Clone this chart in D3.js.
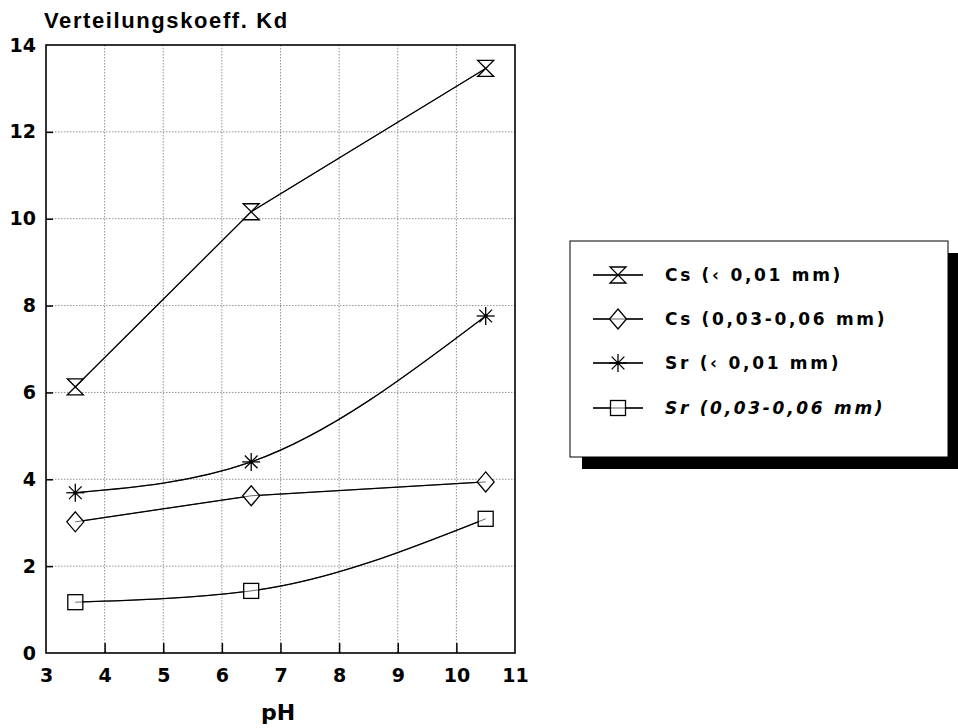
<!DOCTYPE html>
<html><head><meta charset="utf-8">
<script src="https://cdn.jsdelivr.net/npm/d3@7"></script>
<style>body{margin:0;background:#fff}svg{display:block}text{font-family:"Liberation Sans",Arial,sans-serif;font-weight:bold;fill:#000}</style>
</head><body><svg id="c" width="958" height="728"></svg>
<script>
const pH = [3.5, 6.5, 10.5];
const seriesNames = ["Cs (\u2039 0,01 mm)", "Cs (0,03-0,06 mm)", "Sr (\u2039 0,01 mm)", "Sr (0,03-0,06 mm)"];
const csFine = [6.13, 10.16, 13.46];
const csCoarse = [3.02, 3.62, 3.94];
const srFine = [3.69, 4.40, 7.76];
const srCoarse = [1.17, 1.43, 3.09];
const markerTypes = ["hourglass", "diamond", "asterisk", "square"];
const xTicks = [3,4,5,6,7,8,9,10,11];
const yTicks = [0,2,4,6,8,10,12,14];
const series = [csFine, csCoarse, srFine, srCoarse];

const svg = d3.select("#c");
const L = 46, R = 515, T = 45, B = 653;
const x = d3.scaleLinear().domain([3, 11]).range([L, R]);
const y = d3.scaleLinear().domain([0, 14]).range([B, T]);

// grid
const g = svg.append("g");
g.selectAll(".gx").data(xTicks.slice(1, -1)).enter().append("line")
  .attr("x1", d => x(d)).attr("x2", d => x(d)).attr("y1", T).attr("y2", B)
  .attr("stroke", "#777").attr("stroke-width", 0.8).attr("stroke-dasharray", "1.5,1.5");
g.selectAll(".gy").data(yTicks.slice(1, -1)).enter().append("line")
  .attr("y1", d => y(d)).attr("y2", d => y(d)).attr("x1", L).attr("x2", R)
  .attr("stroke", "#777").attr("stroke-width", 0.8).attr("stroke-dasharray", "1.5,1.5");

// frame
svg.append("rect").attr("x", L).attr("y", T).attr("width", R - L).attr("height", B - T)
  .attr("fill", "none").attr("stroke", "#000").attr("stroke-width", 1.6);

// axes
const xAxis = svg.append("g").attr("transform", `translate(0,${B})`)
  .call(d3.axisBottom(x).tickValues(xTicks).tickSize(-10).tickPadding(16).tickFormat(d3.format("d")));
const yAxis = svg.append("g").attr("transform", `translate(${L},0)`)
  .call(d3.axisLeft(y).tickValues(yTicks).tickSize(-7).tickPadding(10).tickFormat(d3.format("d")));
[xAxis, yAxis].forEach(a => {
  a.attr("font-size", null).attr("font-family", null);
  a.select(".domain").remove();
  a.selectAll(".tick line").attr("stroke", "#000").attr("stroke-width", 1.5);
  a.selectAll("text").style("font-size", "19px").attr("fill", "#000")
   .style("font-family", "'DejaVu Sans', sans-serif");
});
xAxis.selectAll(".tick line").filter(d => d === 3 || d === 11).remove();
yAxis.selectAll(".tick line").filter(d => d === 0 || d === 14).remove();

svg.append("text").attr("x", 278).attr("y", 720).attr("text-anchor", "middle")
  .style("font-family", "'DejaVu Sans', sans-serif").style("font-size", "22px").text("pH");
svg.append("text").attr("x", 44).attr("y", 28)
  .style("font-size", "22px").style("letter-spacing", "1.6px").text("Verteilungskoeff. Kd");

// markers
function drawMarker(sel, type, cx, cy) {
  const m = sel.append("g").attr("transform", `translate(${cx},${cy})`);
  if (type === "hourglass") {
    m.append("path").attr("d", "M-8,-8 L8,-8 L-8,8 L8,8 Z").attr("fill", "#fff").attr("stroke", "#000").attr("stroke-width", 1.3);
  } else if (type === "diamond") {
    m.append("path").attr("d", "M0,-10 L8.5,0 L0,10 L-8.5,0 Z").attr("fill", "#fff").attr("stroke", "#000").attr("stroke-width", 1.3);
  } else if (type === "square") {
    m.append("rect").attr("x", -7.5).attr("y", -7.5).attr("width", 15).attr("height", 15)
      .attr("fill", "#fff").attr("stroke", "#000").attr("stroke-width", 1.3);
  } else {
    const r = 9;
    [0, 45, 90, 135].forEach(a => {
      const rad = a * Math.PI / 180;
      m.append("line").attr("x1", -r * Math.cos(rad)).attr("y1", -r * Math.sin(rad))
        .attr("x2", r * Math.cos(rad)).attr("y2", r * Math.sin(rad))
        .attr("stroke", "#000").attr("stroke-width", 1.3);
    });
    m.append("circle").attr("r", 2).attr("fill", "#000");
  }
}

const curves = [d3.curveLinear, d3.curveLinear, d3.curveMonotoneX, d3.curveMonotoneX];
series.forEach((s, k) => {
  const line = d3.line().x((d, i) => x(pH[i])).y(d => y(d)).curve(curves[k]);
  svg.append("path").datum(s).attr("d", line).attr("fill", "none").attr("stroke", "#000").attr("stroke-width", 1.3);
  s.forEach((v, i) => drawMarker(svg, markerTypes[k], x(pH[i]), y(v)));
  svg.append("path").datum(s).attr("d", line).attr("fill", "none").attr("stroke", "#000").attr("stroke-width", 0.6);
});

// legend
const lx = 570, ly = 241, lw = 378, lh = 216;
svg.append("rect").attr("x", lx + 12).attr("y", ly + 12).attr("width", lw).attr("height", lh).attr("fill", "#000");
svg.append("rect").attr("x", lx).attr("y", ly).attr("width", lw).attr("height", lh)
  .attr("fill", "#fff").attr("stroke", "#000").attr("stroke-width", 1);
const rowY = [275, 319, 363, 408];
seriesNames.forEach((n, k) => {
  svg.append("line").attr("x1", 593).attr("x2", 643).attr("y1", rowY[k]).attr("y2", rowY[k])
    .attr("stroke", "#000").attr("stroke-width", 1.3);
  drawMarker(svg, markerTypes[k], 618, rowY[k]);
  svg.append("line").attr("x1", 593).attr("x2", 643).attr("y1", rowY[k]).attr("y2", rowY[k])
    .attr("stroke", "#000").attr("stroke-width", 0.6);
  svg.append("text").attr("x", 665).attr("y", rowY[k]).attr("dy", "0.36em")
    .style("font-family", "'DejaVu Sans', sans-serif")
    .style("font-size", "17px").style("letter-spacing", "2.7px")
    .style("font-style", k === 3 ? "italic" : "normal").text(n);
});
</script></body></html>
